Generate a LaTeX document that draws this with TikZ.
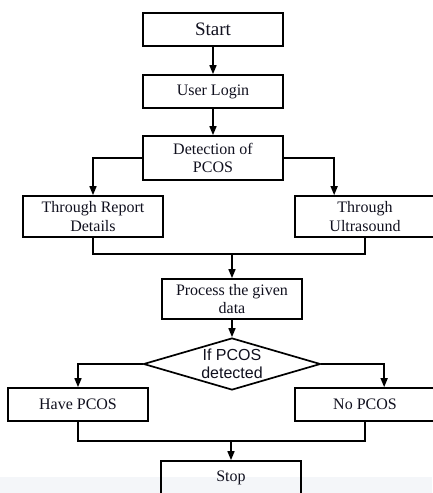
\documentclass[tikz,border=0pt]{standalone}
\usepackage{fontspec}
\setmainfont{Liberation Serif}
\newfontfamily\decfont{Liberation Sans}
\usepackage{tikz}
\usetikzlibrary{shapes.geometric,arrows.meta}
\definecolor{stroke}{HTML}{000000}
\definecolor{ink}{HTML}{10101E}
\definecolor{band}{HTML}{F4F6F9}
\tikzset{
  box/.style={draw=stroke, line width=1.7pt, minimum width=140pt, minimum height=33pt, inner sep=0pt, align=center, text=ink, font=\fontsize{16}{18.5}\selectfont},
  tall/.style={box, minimum height=41pt},
  decision/.style={diamond, draw=stroke, line width=1.7pt, minimum width=177pt, minimum height=52pt, inner sep=0pt},
  dectext/.style={align=center, text=ink, inner sep=0pt, font=\decfont\fontsize{16}{18}\selectfont},
  flow/.style={draw=stroke, line width=1.5pt},
  arr/.style={flow, -{Triangle[length=9pt,width=7pt]}},
}
\begin{document}
\begin{tikzpicture}[x=1pt,y=-1pt]
  \useasboundingbox (0,0) rectangle (432,493);
  \fill[band] (0,477) rectangle (432,493);
  % boxes
  \node[box, font=\fontsize{19}{22}\selectfont] (start) at (213,29.5) {Start};
  \node[box] (login) at (213,91.5) {User Login};
  \node[box, minimum height=44pt] (detect) at (213,158) {Detection of\\PCOS};
  \node[tall] (report) at (93,216.5) {Through Report\\Details};
  \node[tall] (ultra) at (365,216.5) {Through\\Ultrasound};
  \node[box, minimum height=40pt] (proc) at (232,299) {Process the given\\data};
  \node[decision] (dec) at (232,364) {};
  \node[dectext] (dectxt) at (dec) {If PCOS\\detected};
  \node[box] (have) at (78,404.5) {Have PCOS};
  \node[box] (nopcos) at (365,404.5) {No PCOS};
  \node[box] (stop) at (231,477.5) {Stop};
  % joins
  \coordinate (j1) at (232,254);
  \coordinate (j2) at (231,441);
  % arrows
  \draw[arr] (start) -- (login);
  \draw[arr] (login) -- (detect);
  \draw[arr] (detect.west) -| (report.north);
  \draw[arr] (detect.east) -| ([xshift=40pt]ultra.north west);
  \draw[flow] (report.south) |- (j1) -| (ultra.south);
  \draw[arr] (j1) -- (proc.north);
  \draw[arr] (proc) -- (dec);
  \draw[arr] (dec.west) -| (have.north);
  \draw[arr] (dec.east) -| ([xshift=90pt]nopcos.north west);
  \draw[flow] (have.south) |- (j2) -| (nopcos.south);
  \draw[arr] (j2) -- (stop.north);
\end{tikzpicture}
\end{document}
